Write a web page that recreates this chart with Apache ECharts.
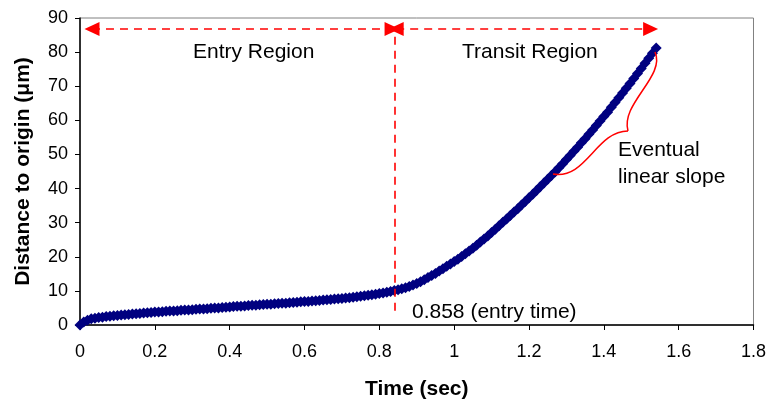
<!DOCTYPE html>
<html><head><meta charset="utf-8">
<script src="https://cdn.jsdelivr.net/npm/echarts@6/dist/echarts.min.js"></script>
<style>html,body{margin:0;padding:0;background:#fff}#c{width:769px;height:405px}</style>
</head><body><div id="c"></div>
<script>
var timeSec = [0,0.01,0.02,0.03,0.04,0.05,0.06,0.07,0.08,0.09,0.10,0.11,0.12,0.13,0.14,0.15,0.16,0.17,0.18,0.19,0.20,0.21,0.22,0.23,0.24,0.25,0.26,0.27,0.28,0.29,0.30,0.31,0.32,0.33,0.34,0.35,0.36,0.37,0.38,0.39,0.40,0.41,0.42,0.43,0.44,0.45,0.46,0.47,0.48,0.49,0.50,0.51,0.52,0.53,0.54,0.55,0.56,0.57,0.58,0.59,0.60,0.61,0.62,0.63,0.64,0.65,0.66,0.67,0.68,0.69,0.70,0.71,0.72,0.73,0.74,0.75,0.76,0.77,0.78,0.79,0.80,0.81,0.82,0.83,0.84,0.85,0.86,0.87,0.88,0.89,0.90,0.91,0.92,0.93,0.94,0.95,0.96,0.97,0.98,0.99,1.00,1.01,1.02,1.03,1.04,1.05,1.06,1.07,1.08,1.09,1.10,1.11,1.12,1.13,1.14,1.15,1.16,1.17,1.18,1.19,1.20,1.21,1.22,1.23,1.24,1.25,1.26,1.27,1.28,1.29,1.30,1.31,1.32,1.33,1.34,1.35,1.36,1.37,1.38,1.39,1.40,1.41,1.42,1.43,1.44,1.45,1.46,1.47,1.48,1.49,1.50,1.51,1.52,1.53,1.54];
var distUm = [0,0.9,1.4,1.8,2.0,2.2,2.3,2.5,2.6,2.7,2.8,2.9,3.0,3.1,3.2,3.3,3.4,3.5,3.6,3.7,3.8,3.8,3.9,4.0,4.1,4.1,4.2,4.3,4.4,4.4,4.5,4.6,4.7,4.7,4.8,4.9,5.0,5.0,5.1,5.2,5.3,5.4,5.5,5.5,5.6,5.7,5.8,5.8,5.9,6.0,6.1,6.1,6.2,6.3,6.4,6.4,6.5,6.6,6.7,6.8,6.9,6.9,7.0,7.1,7.2,7.3,7.4,7.5,7.6,7.7,7.8,7.9,8.0,8.1,8.3,8.4,8.6,8.7,8.9,9.0,9.2,9.4,9.6,9.8,10.1,10.3,10.6,10.9,11.3,11.7,12.2,12.7,13.3,13.9,14.5,15.1,15.8,16.5,17.2,17.9,18.6,19.3,20.1,20.9,21.7,22.5,23.4,24.3,25.2,26.1,27.1,28.1,29.1,30.1,31.1,32.1,33.1,34.1,35.2,36.2,37.3,38.3,39.4,40.5,41.6,42.7,43.8,44.9,46.1,47.3,48.5,49.7,50.9,52.1,53.4,54.6,55.9,57.2,58.5,59.8,61.1,62.4,63.8,65.2,66.6,68.0,69.4,70.8,72.3,73.7,75.2,76.7,78.2,79.7,81.2];
var xTicks = {min:0, max:1.8, interval:0.2};
var yTicks = {min:0, max:90, interval:10};
var entryTime = 0.84;

var pts = timeSec.map(function(t,i){return [t, distUm[i]];});
var red = '#ff0000';
var font = '"Liberation Sans", Arial, sans-serif';
var chart = echarts.init(document.getElementById('c'));
chart.setOption({
  animation:false,
  backgroundColor:'#fff',
  grid:{left:80, right:14, top:18, bottom:79, show:true, borderColor:'#808080', borderWidth:1},
  xAxis:{type:'value', min:xTicks.min, max:xTicks.max, interval:xTicks.interval,
    name:'Time (sec)', nameLocation:'middle', nameGap:54,
    nameTextStyle:{fontFamily:font, fontSize:21, fontWeight:'bold', color:'#000'},
    axisLine:{lineStyle:{color:'#000', width:1.5}},
    axisTick:{show:true, length:5, lineStyle:{color:'#000'}},
    axisLabel:{fontFamily:font, fontSize:18, color:'#000', margin:18,
      formatter:function(v){return String(+v.toFixed(1));}},
    splitLine:{show:false}},
  yAxis:{type:'value', min:yTicks.min, max:yTicks.max, interval:yTicks.interval,
    name:'Distance to origin (μm)', nameLocation:'middle', nameGap:46, nameRotate:90,
    nameTextStyle:{fontFamily:font, fontSize:21, fontWeight:'bold', color:'#000'},
    axisLine:{show:true, lineStyle:{color:'#000', width:1.5}},
    axisTick:{show:true, length:5, lineStyle:{color:'#000'}},
    axisLabel:{fontFamily:font, fontSize:18, color:'#000', margin:12},
    splitLine:{show:false}},
  series:[{
    type:'scatter', data:pts, symbol:'diamond', symbolSize:11,
    itemStyle:{color:'#000080', opacity:1}, z:3,
    markLine:{silent:true, symbol:['triangle','triangle'], symbolSize:[14,15],
      label:{show:false},
      lineStyle:{color:red, type:[8,6], width:1.6},
      data:[
        [{coord:[0.032,86.8]},{coord:[0.834,86.8]}],
        [{coord:[0.845,86.8]},{coord:[1.525,86.8]}],
        [{coord:[entryTime,84.5], symbol:'none'},{coord:[entryTime,2.5], symbol:'none'}]
      ]}
  }],
  graphic:[
    {type:'text', left:193, top:42, style:{text:'Entry Region', font:'21px '+font, fill:'#000'}},
    {type:'text', left:462, top:42, style:{text:'Transit Region', font:'21px '+font, fill:'#000'}},
    {type:'text', left:412, top:302, style:{text:'0.858 (entry time)', font:'21px '+font, fill:'#000'}},
    {type:'text', left:618, top:137, style:{text:'Eventual\nlinear slope', font:'21px '+font, fill:'#000', lineHeight:27}},
    {type:'bezierCurve', shape:{x1:553,y1:174,cpx1:586,cpy1:180,cpx2:596,cpy2:131,x2:628,y2:131},
      style:{stroke:red, lineWidth:1.5, fill:null}, z:10},
    {type:'bezierCurve', shape:{x1:628,y1:131,cpx1:620,cpy1:104,cpx2:666,cpy2:76,x2:655,y2:52},
      style:{stroke:red, lineWidth:1.5, fill:null}, z:10}
  ]
});
</script></body></html>
